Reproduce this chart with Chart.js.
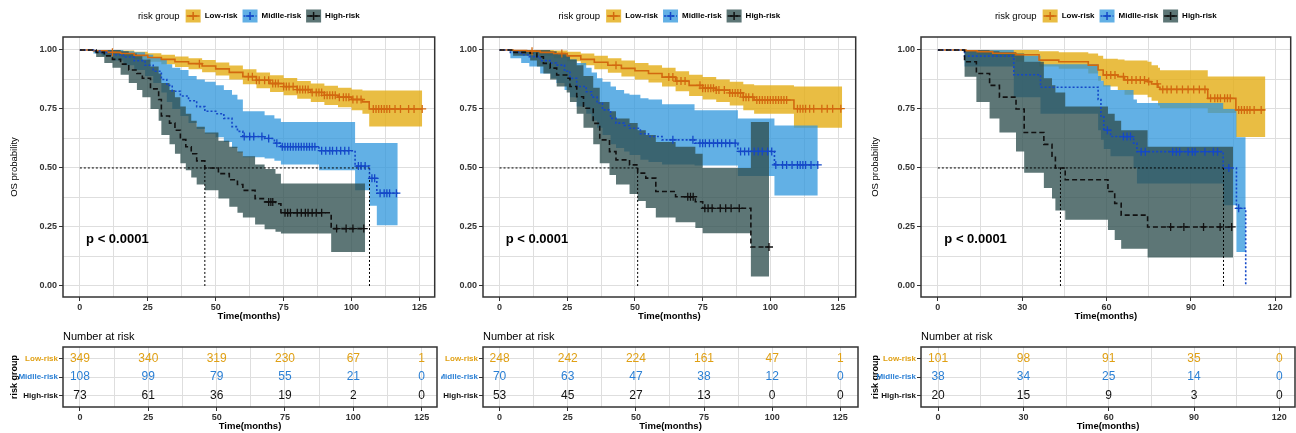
<!DOCTYPE html>
<html>
<head>
<meta charset="utf-8">
<script src="https://cdn.jsdelivr.net/npm/chart.js@4.4.1/dist/chart.umd.min.js"></script>
<style>
  body { margin: 0; background: #fff; }
  #wrap { position: relative; width: 1296px; height: 433px; overflow: hidden; background: #fff; }
  canvas { position: absolute; }
</style>
</head>
<body>
<div id="wrap">
  <canvas id="km1" width="440" height="325" style="left:0;top:0"></canvas>
  <canvas id="km2" width="420" height="325" style="left:441px;top:0"></canvas>
  <canvas id="km3" width="435" height="325" style="left:861px;top:0"></canvas>
  <canvas id="rt1" width="440" height="107" style="left:0;top:326px"></canvas>
  <canvas id="rt2" width="420" height="107" style="left:441px;top:326px"></canvas>
  <canvas id="rt3" width="435" height="107" style="left:861px;top:326px"></canvas>
</div>
<script>
// ---- data ----
var groupNames = ['Low-risk', 'Midlle-risk', 'High-risk'];
var yTicks = [0, 0.125, 0.25, 0.375, 0.5, 0.625, 0.75, 0.875, 1];
var yMajor = [0, 0.25, 0.5, 0.75, 1];
var xTicks125 = [0, 12.5, 25, 37.5, 50, 62.5, 75, 87.5, 100, 112.5, 125];
var xMajor125 = [0, 25, 50, 75, 100, 125];
var xTicks120 = [0, 15, 30, 45, 60, 75, 90, 105, 120];
var xMajor120 = [0, 30, 60, 90, 120];

// panel 1
var p1LowT = [0, 5, 10, 15, 20, 25, 30, 35, 40, 45, 50, 55, 60, 65, 70, 75, 80, 85, 90, 95, 100, 104, 106.5, 126];
var p1LowS = [1, 0.997, 0.99, 0.985, 0.977, 0.968, 0.96, 0.95, 0.942, 0.932, 0.92, 0.905, 0.887, 0.872, 0.858, 0.845, 0.832, 0.82, 0.808, 0.8, 0.79, 0.78, 0.75, 0.75];
var p1LowUp = [1, 1, 1, 0.998, 0.993, 0.986, 0.98, 0.972, 0.965, 0.957, 0.947, 0.934, 0.918, 0.905, 0.893, 0.881, 0.869, 0.858, 0.848, 0.84, 0.833, 0.828, 0.828, 0.828];
var p1LowLo = [1, 0.99, 0.98, 0.972, 0.962, 0.95, 0.94, 0.928, 0.918, 0.906, 0.892, 0.875, 0.855, 0.838, 0.822, 0.808, 0.793, 0.78, 0.767, 0.757, 0.745, 0.73, 0.676, 0.676];
var p1LowCens = [12, 44, 62, 63.5, 65, 66, 68, 69.5, 71, 72, 73, 75, 76, 77, 78.5, 80, 81, 82, 83, 84, 85.5, 87, 88, 89, 90, 91, 92, 93, 94, 95.5, 97, 98, 99, 100.5, 102, 103.5, 108, 109, 110, 111, 112, 113, 114, 116, 118, 121, 123, 126];

var p1MidT = [0, 5, 8, 12, 16, 20, 24, 27, 30, 32, 34, 37, 40, 43, 46, 50, 53, 56, 58, 60, 68, 71.6, 74, 88, 101.3, 106.6, 109.3, 117];
var p1MidS = [1, 0.995, 0.99, 0.98, 0.97, 0.955, 0.935, 0.91, 0.875, 0.85, 0.825, 0.805, 0.785, 0.76, 0.74, 0.73, 0.71, 0.675, 0.655, 0.633, 0.625, 0.605, 0.59, 0.573, 0.508, 0.456, 0.393, 0.393];
var p1MidUp = [1, 1, 1, 1, 0.995, 0.99, 0.98, 0.97, 0.96, 0.94, 0.925, 0.915, 0.89, 0.875, 0.865, 0.85, 0.83, 0.81, 0.79, 0.74, 0.723, 0.71, 0.695, 0.695, 0.606, 0.606, 0.606, 0.606];
var p1MidLo = [1, 0.985, 0.975, 0.955, 0.935, 0.915, 0.89, 0.86, 0.82, 0.78, 0.75, 0.72, 0.69, 0.665, 0.645, 0.63, 0.61, 0.585, 0.565, 0.545, 0.54, 0.53, 0.515, 0.49, 0.405, 0.34, 0.257, 0.257];
var p1MidCens = [60.5, 62.5, 64, 67, 69.5, 72.5, 74.5, 75.5, 76.5, 77.5, 78.5, 79.5, 80.5, 81.5, 82.5, 83.5, 84.5, 85.5, 86.5, 89, 90.5, 92, 93, 94.5, 96, 97.5, 99, 102.5, 103.5, 105, 107.5, 108.5, 110.5, 112, 113, 114, 116.5];

var p1HighT = [0, 6, 9, 12, 15, 18, 21, 23, 26, 29, 30, 33, 35, 37, 39, 41, 43, 46, 51, 55, 58, 60, 64.5, 68, 72, 74, 92.5, 105];
var p1HighS = [1, 0.99, 0.975, 0.96, 0.94, 0.915, 0.9, 0.88, 0.835, 0.79, 0.72, 0.69, 0.66, 0.62, 0.59, 0.56, 0.53, 0.5, 0.476, 0.45, 0.43, 0.405, 0.37, 0.356, 0.348, 0.31, 0.243, 0.243];
var p1HighUp = [1, 1, 1, 1, 0.995, 0.985, 0.975, 0.96, 0.93, 0.9, 0.86, 0.83, 0.8, 0.76, 0.73, 0.7, 0.675, 0.65, 0.615, 0.59, 0.57, 0.55, 0.515, 0.495, 0.475, 0.434, 0.434, 0.434];
var p1HighLo = [1, 0.97, 0.945, 0.925, 0.895, 0.86, 0.83, 0.8, 0.75, 0.7, 0.64, 0.6, 0.56, 0.52, 0.49, 0.46, 0.43, 0.405, 0.37, 0.335, 0.31, 0.29, 0.26, 0.24, 0.23, 0.222, 0.144, 0.144];
var p1HighCens = [69.5, 70.3, 71, 75.5, 76.5, 77.5, 80, 81.5, 83, 84, 85.5, 87, 89, 94.5, 98, 100.5, 104.5];
var p1Medians = [46, 106.6];

// panel 2
var p2LowT = [0, 5, 10, 15, 20, 25, 30, 35, 40, 45, 50, 55, 60, 65, 70, 75, 80, 85, 90, 94, 108.7, 126.5];
var p2LowS = [1, 0.998, 0.995, 0.99, 0.985, 0.975, 0.96, 0.948, 0.935, 0.922, 0.912, 0.9, 0.885, 0.868, 0.85, 0.838, 0.83, 0.818, 0.8, 0.788, 0.751, 0.751];
var p2LowUp = [1, 1, 1, 1, 0.998, 0.993, 0.985, 0.975, 0.965, 0.955, 0.945, 0.935, 0.925, 0.91, 0.895, 0.885, 0.875, 0.865, 0.855, 0.85, 0.845, 0.845];
var p2LowLo = [1, 0.99, 0.985, 0.975, 0.965, 0.952, 0.935, 0.918, 0.903, 0.888, 0.875, 0.862, 0.845, 0.825, 0.805, 0.79, 0.78, 0.765, 0.745, 0.73, 0.67, 0.67];
var p2LowCens = [12, 23, 43, 62.5, 64, 65.5, 67, 68.5, 74, 75, 76, 77, 78, 79, 80, 81, 83, 85, 86, 87, 88, 89, 90, 91, 92, 93.5, 95, 96, 97, 98, 99, 100, 101, 102, 103, 104, 105, 106, 110, 111, 112, 113, 114.5, 116, 119, 121, 123, 126];

var p2MidT = [0, 4, 8, 11, 15, 19, 21, 24, 26, 28.5, 32, 34, 36, 38, 41, 43, 46, 48, 52, 55, 60, 72, 88, 101.5, 117.5];
var p2MidS = [1, 0.99, 0.98, 0.972, 0.955, 0.945, 0.936, 0.91, 0.88, 0.845, 0.823, 0.8, 0.775, 0.746, 0.71, 0.69, 0.68, 0.668, 0.645, 0.633, 0.619, 0.605, 0.57, 0.513, 0.513];
var p2MidUp = [1, 1, 1, 1, 0.995, 0.99, 0.985, 0.975, 0.96, 0.945, 0.925, 0.905, 0.88, 0.865, 0.845, 0.83, 0.815, 0.81, 0.795, 0.79, 0.77, 0.745, 0.71, 0.68, 0.68];
var p2MidLo = [1, 0.965, 0.945, 0.93, 0.9, 0.88, 0.86, 0.83, 0.8, 0.76, 0.73, 0.7, 0.67, 0.64, 0.6, 0.585, 0.57, 0.555, 0.535, 0.525, 0.515, 0.51, 0.466, 0.383, 0.383];
var p2MidCens = [64, 71.4, 74, 75, 76, 77.5, 79, 80.5, 82, 83.5, 85, 87, 89, 90.5, 92, 94, 95.5, 97, 99, 100.5, 102, 104.5, 106, 108, 110, 111, 112, 113, 115, 117.5];

var p2HighT = [0, 5, 11.3, 13.8, 16.2, 18.7, 21.1, 24.8, 26, 28.5, 31, 34.6, 37, 40.6, 43, 48, 51, 54, 57.7, 65, 72.3, 75, 92.8, 99.5];
var p2HighS = [1, 0.99, 0.986, 0.971, 0.943, 0.923, 0.894, 0.88, 0.845, 0.802, 0.753, 0.689, 0.619, 0.569, 0.534, 0.513, 0.478, 0.457, 0.4, 0.378, 0.357, 0.329, 0.165, 0.165];
var p2HighUp = [1, 1, 1, 1, 1, 0.995, 0.985, 0.975, 0.96, 0.935, 0.89, 0.84, 0.78, 0.74, 0.71, 0.69, 0.66, 0.64, 0.61, 0.59, 0.56, 0.5, 0.695, 0.695];
var p2HighLo = [1, 0.975, 0.955, 0.93, 0.9, 0.875, 0.845, 0.82, 0.78, 0.73, 0.67, 0.6, 0.52, 0.47, 0.43, 0.39, 0.36, 0.33, 0.29, 0.27, 0.245, 0.223, 0.04, 0.04];
var p2HighCens = [69.5, 70.5, 71.5, 75.8, 77, 78.5, 81.5, 83.5, 85.5, 88.5, 99.5];
var p2Medians = [51];

// panel 3
var p3LowT = [0, 10, 14, 19.5, 27.8, 36, 43, 53.5, 57, 58.8, 64, 66.4, 74.6, 76, 78.3, 79, 96, 106, 116.5];
var p3LowS = [1, 0.997, 0.993, 0.986, 0.98, 0.957, 0.95, 0.936, 0.915, 0.894, 0.887, 0.873, 0.866, 0.856, 0.842, 0.833, 0.795, 0.746, 0.746];
var p3LowUp = [1, 1, 1, 1, 1, 0.995, 0.99, 0.985, 0.975, 0.963, 0.96, 0.955, 0.95, 0.935, 0.925, 0.914, 0.888, 0.888, 0.888];
var p3LowLo = [1, 0.99, 0.98, 0.97, 0.95, 0.93, 0.92, 0.9, 0.87, 0.845, 0.83, 0.81, 0.8, 0.785, 0.765, 0.754, 0.733, 0.631, 0.631];
var p3LowCens = [60, 61.5, 63, 66, 67.5, 69, 70.5, 72, 73.5, 75, 78, 80, 81.5, 83, 85, 87, 89, 91, 93, 95, 97, 98.5, 99.5, 100.5, 102, 103, 104, 107, 108, 109, 110, 111, 112.5, 115];

var p3MidT = [0, 9.5, 27, 36.5, 57, 58, 59, 61.4, 69.6, 70.8, 101.5, 106.2, 109.5];
var p3MidS = [1, 0.974, 0.895, 0.842, 0.79, 0.72, 0.66, 0.633, 0.605, 0.569, 0.5, 0.329, 0];
var p3MidUp = [1, 1, 0.975, 0.94, 0.89, 0.87, 0.85, 0.83, 0.79, 0.775, 0.75, 0.63, 0.63];
var p3MidLo = [1, 0.93, 0.8, 0.73, 0.66, 0.62, 0.58, 0.55, 0.5, 0.434, 0.342, 0.144, 0.144];
var p3MidCens = [60.3, 66, 67.3, 68.5, 72.3, 73.8, 83.5, 84.8, 86, 89, 90.5, 91.5, 95, 98, 99.5, 103.5, 107];

var p3HighT = [0, 9.5, 13.7, 18.4, 21.9, 27.8, 30.7, 37.7, 40.6, 41.8, 45.3, 60.5, 62.9, 65.2, 74.6, 105];
var p3HighS = [1, 0.95, 0.9, 0.85, 0.8, 0.75, 0.65, 0.6, 0.55, 0.5, 0.45, 0.4, 0.35, 0.3, 0.25, 0.25];
var p3HighUp = [1, 1, 1, 0.995, 0.99, 0.985, 0.95, 0.88, 0.85, 0.82, 0.76, 0.73, 0.7, 0.66, 0.59, 0.59];
var p3HighLo = [1, 0.887, 0.78, 0.71, 0.65, 0.57, 0.48, 0.415, 0.37, 0.32, 0.28, 0.237, 0.195, 0.157, 0.12, 0.12];
var p3HighCens = [82.8, 87.5, 94.5, 100.4, 104.5];
var p3Medians = [43.6, 101.6];

// number at risk
var p1Risk = [[349, 340, 319, 230, 67, 1], [108, 99, 79, 55, 21, 0], [73, 61, 36, 19, 2, 0]];
var p2Risk = [[248, 242, 224, 161, 47, 1], [70, 63, 47, 38, 12, 0], [53, 45, 27, 13, 0, 0]];
var p3Risk = [[101, 98, 91, 35, 0], [38, 34, 25, 14, 0], [20, 15, 9, 3, 0]];

var pText = 'p < 0.0001';

// ---- style ----
var FONT = "'Liberation Sans', Arial, sans-serif";
var bandColors = ['rgba(228,172,20,0.8)', 'rgba(46,150,220,0.75)', 'rgba(47,79,79,0.78)'];
var lineColors = ['#d2690f', '#1448c8', '#111111'];
var lineDash = [[], [2, 2], [5, 3]];
var tableColors = ['#e0a014', '#2a7fd4', '#111111'];
var GRID = '#dedede';

function pts(t, v) {
  return t.map(function (x, i) { return { x: x, y: v[i] }; });
}
function survAt(t, s, c) {
  var v = s[0];
  for (var i = 0; i < t.length; i++) { if (t[i] <= c) v = s[i]; }
  return v;
}

function xAxis(range, ticks, major, h, titlePad) {
  return {
    type: 'linear', min: range[0], max: range[1],
    afterBuildTicks: function (s) { s.ticks = ticks.map(function (v) { return { value: v }; }); },
    afterFit: function (s) { s.height = h; },
    ticks: {
      autoSkip: false, maxRotation: 0, padding: 1, color: '#333',
      font: { family: FONT, size: 9, weight: 'bold' },
      callback: function (v) { return major.indexOf(v) >= 0 ? String(v) : ''; }
    },
    grid: {
      color: GRID, lineWidth: 1, tickLength: 4,
      tickColor: function (c) { return (c.tick && major.indexOf(c.tick.value) >= 0) ? '#333' : 'rgba(0,0,0,0)'; }
    },
    border: { display: false },
    title: { display: true, text: 'Time(months)', color: '#000', font: { family: FONT, size: 9.5, weight: 'bold' }, padding: { top: 0, bottom: titlePad } }
  };
}

function drawLegend(ctx, cx, cy) {
  ctx.save();
  ctx.font = '9.5px ' + FONT;
  var tw = ctx.measureText('risk group').width;
  ctx.font = 'bold 8px ' + FONT;
  var lw = groupNames.map(function (n) { return ctx.measureText(n).width; });
  var boxW = 15, boxH = 13;
  var total = tw + 6 + 3 * (boxW + 4) + lw[0] + lw[1] + lw[2] + 2 * 5;
  var x = cx - total / 2;
  ctx.textBaseline = 'middle';
  ctx.textAlign = 'left';
  ctx.fillStyle = '#000';
  ctx.font = '9.5px ' + FONT;
  ctx.fillText('risk group', x, cy);
  x += tw + 6;
  for (var k = 0; k < 3; k++) {
    ctx.fillStyle = bandColors[k];
    ctx.fillRect(x, cy - boxH / 2, boxW, boxH);
    ctx.strokeStyle = lineColors[k];
    ctx.lineWidth = 1.5;
    ctx.setLineDash(lineDash[k]);
    ctx.beginPath(); ctx.moveTo(x + 1, cy); ctx.lineTo(x + boxW - 1, cy); ctx.stroke();
    ctx.setLineDash([]);
    ctx.beginPath();
    ctx.moveTo(x + boxW / 2 - 4, cy); ctx.lineTo(x + boxW / 2 + 4, cy);
    ctx.moveTo(x + boxW / 2, cy - 4); ctx.lineTo(x + boxW / 2, cy + 4);
    ctx.stroke();
    x += boxW + 4;
    ctx.fillStyle = '#000';
    ctx.font = 'bold 8px ' + FONT;
    ctx.fillText(groupNames[k], x, cy);
    x += lw[k] + 5;
  }
  ctx.restore();
}

var kmDeco = {
  id: 'kmDeco',
  afterDatasetsDraw: function (chart) {
    var ctx = chart.ctx, x = chart.scales.x, y = chart.scales.y;
    ctx.save();
    ctx.font = 'bold 13px ' + FONT;
    ctx.fillStyle = '#000';
    ctx.textBaseline = 'middle';
    ctx.textAlign = 'left';
    ctx.fillText(pText, x.getPixelForValue(2.3), y.getPixelForValue(0.197));
    ctx.restore();
  },
  afterDraw: function (chart) {
    var ctx = chart.ctx, a = chart.chartArea;
    ctx.save();
    ctx.strokeStyle = '#333';
    ctx.lineWidth = 1.5;
    ctx.strokeRect(a.left, a.top, a.right - a.left, a.bottom - a.top);
    ctx.restore();
    drawLegend(ctx, (a.left + a.right) / 2, 16);
  }
};

function kmChart(id, groups, medians, range, ticks, major, yW, padR, yTitle) {
  var ds = [];
  groups.forEach(function (g, k) {
    ds.push({ data: pts(g[0], g[2]), stepped: true, borderWidth: 0, borderColor: 'rgba(0,0,0,0)', pointRadius: 0, fill: false, order: 10 - k });
    ds.push({ data: pts(g[0], g[3]), stepped: true, borderWidth: 0, borderColor: 'rgba(0,0,0,0)', pointRadius: 0, fill: '-1', backgroundColor: bandColors[k], order: 10 - k });
  });
  // median reference lines
  var medEnd = Math.max.apply(null, medians);
  ds.push({ data: [{ x: 0, y: 0.5 }, { x: medEnd, y: 0.5 }], borderColor: '#000', borderWidth: 1, borderDash: [2, 2], pointRadius: 0, fill: false, order: 4 });
  medians.forEach(function (m) {
    ds.push({ data: [{ x: m, y: 0.5 }, { x: m, y: 0 }], borderColor: '#000', borderWidth: 1, borderDash: [2, 2], pointRadius: 0, fill: false, order: 4 });
  });
  groups.forEach(function (g, k) {
    ds.push({ data: pts(g[0], g[1]), stepped: true, borderColor: lineColors[k], borderWidth: 1.6, borderDash: lineDash[k], pointRadius: 0, fill: false, order: 3 - k * 0.1 });
    ds.push({
      data: g[4].map(function (c) { return { x: c, y: survAt(g[0], g[1], c) }; }),
      showLine: false, pointStyle: 'cross', pointRadius: 4, pointBorderColor: lineColors[k], pointBorderWidth: 1.3, order: 1
    });
  });
  new Chart(document.getElementById(id), {
    type: 'line',
    data: { datasets: ds },
    options: {
      responsive: false, animation: false, devicePixelRatio: 1, events: [],
      layout: { padding: { top: 37, right: padR, left: 0, bottom: 0 } },
      plugins: { legend: { display: false }, tooltip: { enabled: false } },
      scales: {
        x: xAxis(range, ticks, major, 28, 2.6),
        y: {
          type: 'linear', min: -0.047, max: 1.055,
          afterBuildTicks: function (s) { s.ticks = yTicks.map(function (v) { return { value: v }; }); },
          afterFit: function (s) { s.width = yW; },
          ticks: {
            autoSkip: false, padding: 2, color: '#333',
            font: { family: FONT, size: 9, weight: 'bold' },
            callback: function (v) { return yMajor.indexOf(v) >= 0 ? v.toFixed(2) : ''; }
          },
          grid: {
            color: GRID, lineWidth: 1, tickLength: 4,
            tickColor: function (c) { return (c.tick && yMajor.indexOf(c.tick.value) >= 0) ? '#333' : 'rgba(0,0,0,0)'; }
          },
          border: { display: false },
          title: { display: yTitle, text: 'OS probability', color: '#000', font: { family: FONT, size: 9.5 }, padding: { top: 9, bottom: 0 } }
        }
      }
    },
    plugins: [kmDeco]
  });
}

var riskDeco = {
  id: 'riskDeco',
  afterDatasetsDraw: function (chart) {
    var ctx = chart.ctx;
    ctx.save();
    ctx.font = '12px ' + FONT;
    ctx.textAlign = 'center';
    ctx.textBaseline = 'middle';
    chart.data.datasets.forEach(function (d, k) {
      var meta = chart.getDatasetMeta(k);
      ctx.fillStyle = tableColors[k];
      meta.data.forEach(function (el, i) { ctx.fillText(String(d.counts[i]), el.x, el.y); });
    });
    ctx.restore();
  },
  afterDraw: function (chart) {
    var ctx = chart.ctx, a = chart.chartArea;
    ctx.save();
    ctx.strokeStyle = '#333';
    ctx.lineWidth = 1.5;
    ctx.strokeRect(a.left, a.top, a.right - a.left, a.bottom - a.top);
    ctx.font = '11px ' + FONT;
    ctx.fillStyle = '#000';
    ctx.textAlign = 'left';
    ctx.textBaseline = 'middle';
    ctx.fillText('Number at risk', a.left, 11);
    ctx.restore();
  }
};

function riskChart(id, risk, range, ticks, major, yW, padR, yTitle) {
  var ds = risk.map(function (row, k) {
    return { data: major.map(function (v) { return { x: v, y: k + 1 }; }), counts: row, showLine: false, pointRadius: 0 };
  });
  new Chart(document.getElementById(id), {
    type: 'line',
    data: { datasets: ds },
    options: {
      responsive: false, animation: false, devicePixelRatio: 1, events: [],
      layout: { padding: { top: 21, right: padR, left: 0, bottom: 0 } },
      plugins: { legend: { display: false }, tooltip: { enabled: false } },
      scales: {
        x: xAxis(range, ticks, major, 26, 0.6),
        y: {
          type: 'linear', min: 0.38, max: 3.62, reverse: true,
          afterBuildTicks: function (s) { s.ticks = [1, 2, 3].map(function (v) { return { value: v }; }); },
          afterFit: function (s) { s.width = yW; },
          ticks: {
            autoSkip: false, padding: 1,
            color: function (c) { return tableColors[c.index]; },
            font: { family: FONT, size: 8, weight: 'bold' },
            callback: function (v) { return groupNames[v - 1]; }
          },
          grid: { color: GRID, lineWidth: 1, tickLength: 4, tickColor: '#333' },
          border: { display: false },
          title: { display: yTitle, text: 'risk group', color: '#000', font: { family: FONT, size: 9, weight: 'bold' }, padding: { top: 9, bottom: 0 } }
        }
      }
    },
    plugins: [riskDeco]
  });
}

var p1Groups = [
  [p1LowT, p1LowS, p1LowUp, p1LowLo, p1LowCens],
  [p1MidT, p1MidS, p1MidUp, p1MidLo, p1MidCens],
  [p1HighT, p1HighS, p1HighUp, p1HighLo, p1HighCens]
];
var p2Groups = [
  [p2LowT, p2LowS, p2LowUp, p2LowLo, p2LowCens],
  [p2MidT, p2MidS, p2MidUp, p2MidLo, p2MidCens],
  [p2HighT, p2HighS, p2HighUp, p2HighLo, p2HighCens]
];
var p3Groups = [
  [p3LowT, p3LowS, p3LowUp, p3LowLo, p3LowCens],
  [p3MidT, p3MidS, p3MidUp, p3MidLo, p3MidCens],
  [p3HighT, p3HighS, p3HighUp, p3HighLo, p3HighCens]
];

kmChart('km1', p1Groups, p1Medians, [-6.2, 130.6], xTicks125, xMajor125, 63, 3, true);
kmChart('km2', p2Groups, p2Medians, [-6.1, 131.5], xTicks125, xMajor125, 42, 3, false);
kmChart('km3', p3Groups, p3Medians, [-6, 125.5], xTicks120, xMajor120, 60, 1, true);

riskChart('rt1', p1Risk, [-6.2, 130.6], xTicks125, xMajor125, 63, 3, true);
riskChart('rt2', p2Risk, [-6.1, 131.5], xTicks125, xMajor125, 42, 3, false);
riskChart('rt3', p3Risk, [-6, 125.5], xTicks120, xMajor120, 60, 1, true);
</script>
</body>
</html>
